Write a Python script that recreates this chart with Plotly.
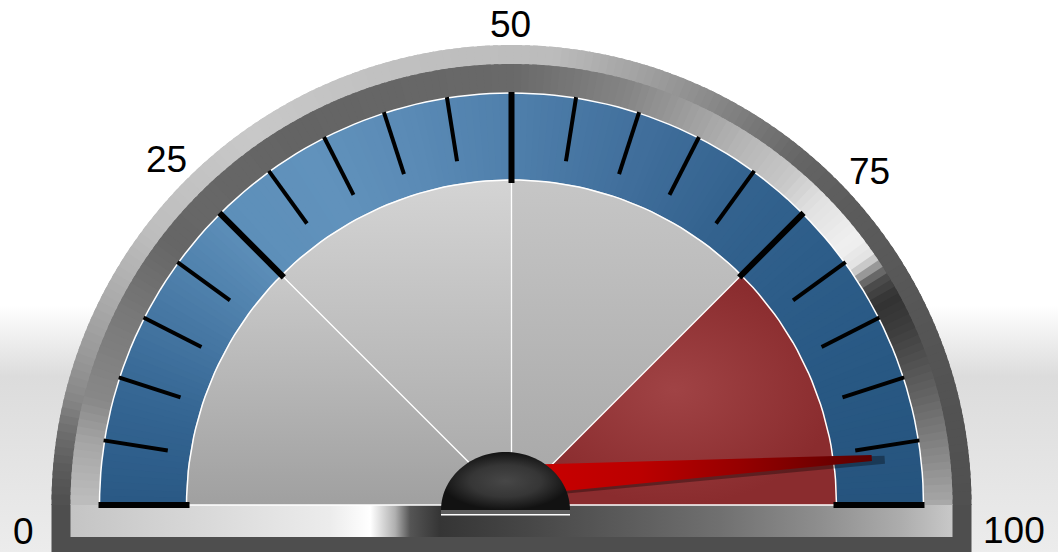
import math
import plotly.graph_objects as go

# ---------------- data ----------------
GAUGE_MIN = 0
GAUGE_MAX = 100
NEEDLE_VALUE = 98
BAND_EDGES = [0, 25, 50, 75, 100]
MAJOR_TICKS = [0, 25, 50, 75, 100]
MINOR_TICKS = [5, 10, 15, 20, 30, 35, 40, 45, 55, 60, 65, 70, 80, 85, 90, 95]
TICK_LABELS = ["0", "25", "50", "75", "100"]

# ---------------- style ----------------
W, H = 1058, 552
CX, CY = 511.5, 505.0
R_OUT, R_BEZ_IN, R_BAND_OUT, R_BAND_IN = 460.0, 441.0, 412.0, 325.0
R_MINOR_IN, R_MAJOR_IN = 348.0, 322.0
LABEL_R = 488.0
LABEL_SHIFTS = [(0, 26), (0, 0), (-1.5, 7), (13, 12), (14, 25.5)]
PIVOT = (505.5, 481.0)
NEEDLE_LEN, NEEDLE_BASE_HW, NEEDLE_TIP_HW = 367.0, 16.0, 3.0
HUB_C, HUB_RX, HUB_RY = (505.5, 510.0), 64.5, 58.0

OUTER_KEYS = [(0, 80), (20, 84), (42, 92), (50, 100), (57, 118), (65, 140), (73, 160),
              (85, 188), (105, 192), (125, 200), (143, 190), (153, 171), (160, 155),
              (166, 138), (171, 110), (176, 90), (180, 80)]
INNER_KEYS = [(0, 170), (5, 145), (15, 100), (25, 60), (29, 50), (32, 80), (35, 225),
              (38, 240), (45, 225), (50, 200), (58, 181), (65, 160), (75, 132), (90, 105),
              (120, 100), (135, 103), (143, 102), (153, 119), (160, 128), (166, 136),
              (172, 165), (180, 190)]
BLUE_KEYS = [(0, (38, 84, 126)), (20, (40, 88, 131)), (40, (45, 93, 137)),
             (55, (52, 99, 143)), (70, (64, 110, 155)), (90, (79, 127, 171)),
             (105, (90, 138, 181)), (120, (97, 146, 188)), (135, (93, 143, 185)),
             (150, (72, 121, 165)), (165, (52, 101, 146)), (180, (42, 89, 133))]
SECTOR_STYLES = [
    dict(type="vertical", colorscale=[[0, "#c9c9c9"], [1, "#a0a0a0"]], start=275, stop=505),
    dict(type="vertical", colorscale=[[0, "#d4d4d4"], [1, "#a6a6a6"]], start=180, stop=505),
    dict(type="vertical", colorscale=[[0, "#c6c6c6"], [1, "#a6a6a6"]], start=180, stop=505),
    dict(type="radial", colorscale=[[0, "#a04345"], [1, "#8a2c2e"]]),
]


def ang(v):
    return math.pi * (1 - (v - GAUGE_MIN) / (GAUGE_MAX - GAUGE_MIN))


def pt(r, a, c=(CX, CY)):
    return c[0] + r * math.cos(a), c[1] - r * math.sin(a)


def interp(keys, deg):
    for (a0, c0), (a1, c1) in zip(keys[:-1], keys[1:]):
        if a0 <= deg <= a1:
            t = (deg - a0) / (a1 - a0)
            if isinstance(c0, tuple):
                return tuple(c0[i] + (c1[i] - c0[i]) * t for i in range(3))
            return c0 + (c1 - c0) * t
    return keys[-1][1]


def rgb(c):
    if not isinstance(c, tuple):
        c = (c, c, c)
    return "rgb(%d,%d,%d)" % tuple(int(round(v)) for v in c)


fig = go.Figure()


def poly(xs, ys, color=None, gradient=None):
    kw = dict(x=xs, y=ys, mode="none", fill="toself", hoverinfo="skip", showlegend=False)
    if gradient is not None:
        kw["fillgradient"] = gradient
    else:
        kw["fillcolor"] = color
    fig.add_trace(go.Scatter(**kw))


def line(xs, ys, color, width):
    fig.add_trace(go.Scatter(x=xs, y=ys, mode="lines", line=dict(color=color, width=width),
                             hoverinfo="skip", showlegend=False))


def annulus(r0, r1, a0, a1, n=6):
    outer = [pt(r1, a0 + (a1 - a0) * i / n) for i in range(n + 1)]
    inner = [pt(r0, a1 - (a1 - a0) * i / n) for i in range(n + 1)]
    p = outer + inner
    return [q[0] for q in p], [q[1] for q in p]


def ring(r0, r1, keys, step=1.0, ov=0.3):
    d = 0.0
    while d < 180:
        mid = d + step / 2
        a0 = math.radians(max(0, d - ov))
        a1 = math.radians(min(180, d + step + ov))
        xs, ys = annulus(r0, r1, a0, a1, 2)
        poly(xs, ys, rgb(interp(keys, mid)))
        d += step


# background
poly([0, W, W, 0], [290, 290, H + 5, H + 5],
     gradient=dict(type="vertical", start=290, stop=H,
                   colorscale=[[0, "#ffffff"], [0.06, "#ffffff"], [0.33, "#dcdcdc"], [1, "#ececec"]]))

# bezel base (outer dark rectangle)
poly([CX - R_OUT, CX + R_OUT, CX + R_OUT, CX - R_OUT], [CY - 1, CY - 1, H + 5, H + 5], "#4e4e4e")
# outer ring
ring(R_BEZ_IN - 1, R_OUT, OUTER_KEYS)
# inner light strip
poly([CX - R_BEZ_IN, CX + R_BEZ_IN, CX + R_BEZ_IN, CX - R_BEZ_IN], [CY - 1, CY - 1, 537, 537],
     gradient=dict(type="horizontal", start=CX - R_BEZ_IN, stop=CX + R_BEZ_IN,
                   colorscale=[[0, "#c4c4c4"], [0.146, "#d8d8d8"], [0.294, "#ececec"],
                               [0.34, "#ffffff"], [0.368, "#b0b0b0"], [0.385, "#555555"],
                               [0.419, "#353535"], [0.51, "#454545"], [0.623, "#5a5a5a"],
                               [0.736, "#707070"], [0.85, "#8e8e8e"], [0.94, "#acacac"],
                               [1, "#c8c8c8"]]))
# inner ring
ring(R_BAND_OUT - 0.5, R_BEZ_IN, INNER_KEYS)
# blue band
ring(R_BAND_IN - 0.5, R_BAND_OUT, BLUE_KEYS)

# sectors
for i in range(len(BAND_EDGES) - 1):
    a0, a1 = ang(BAND_EDGES[i + 1]), ang(BAND_EDGES[i])
    n = 40
    p = [(CX, CY)] + [pt(R_BAND_IN + 0.5, a0 + (a1 - a0) * k / n) for k in range(n + 1)]
    poly([q[0] for q in p], [q[1] for q in p], gradient=SECTOR_STYLES[i])

# white edges
for r in (R_BAND_OUT, R_BAND_IN):
    p = [pt(r, math.pi * k / 120) for k in range(121)]
    line([q[0] for q in p], [q[1] for q in p], "white", 1.5)
sx, sy = [], []
for v in BAND_EDGES[1:-1]:
    a = ang(v)
    x1, y1 = pt(R_BAND_IN, a)
    sx += [CX, x1, None]
    sy += [CY, y1, None]
line(sx, sy, "white", 1.3)
line([CX - R_BAND_IN, CX + R_BAND_IN], [CY, CY], "white", 1.5)

# ticks
for ticks, rin, wdt in ((MINOR_TICKS, R_MINOR_IN, 4), (MAJOR_TICKS, R_MAJOR_IN, 6)):
    tx, ty = [], []
    for v in ticks:
        a = ang(v)
        p0, p1 = pt(R_BAND_OUT + 1, a), pt(rin, a)
        tx += [p0[0], p1[0], None]
        ty += [p0[1], p1[1], None]
    line(tx, ty, "black", wdt)

# needle
a = ang(NEEDLE_VALUE)
u = (math.cos(a), -math.sin(a))
nrm = (math.sin(a), math.cos(a))


def needle_poly(length, hw0, hw1, dx=0.0, dy=0.0):
    px, py = PIVOT[0] + dx, PIVOT[1] + dy
    pts = [(px - u[0] * 10 + nrm[0] * hw0, py - u[1] * 10 + nrm[1] * hw0),
           (px + u[0] * length + nrm[0] * hw1, py + u[1] * length + nrm[1] * hw1),
           (px + u[0] * length - nrm[0] * hw1, py + u[1] * length - nrm[1] * hw1),
           (px - u[0] * 10 - nrm[0] * hw0, py - u[1] * 10 - nrm[1] * hw0)]
    return [q[0] for q in pts], [q[1] for q in pts]


xs, ys = needle_poly(NEEDLE_LEN + 13, NEEDLE_BASE_HW, NEEDLE_TIP_HW + 1, 0, 2.5)
poly(xs, ys, "rgba(0,0,0,0.33)")
xs, ys = needle_poly(NEEDLE_LEN, NEEDLE_BASE_HW, NEEDLE_TIP_HW)
poly(xs, ys, gradient=dict(type="horizontal", start=540, stop=PIVOT[0] + NEEDLE_LEN,
                           colorscale=[[0, "#c80000"], [0.3, "#bb0000"], [0.6, "#960000"],
                                       [1, "#5a0000"]]))

# hub
poly([HUB_C[0] - HUB_RX, HUB_C[0] + HUB_RX, HUB_C[0] + HUB_RX, HUB_C[0] - HUB_RX],
     [HUB_C[1] - 2, HUB_C[1] - 2, HUB_C[1] + 4.5, HUB_C[1] + 4.5], "#5e5e5e")
line([HUB_C[0] - HUB_RX, HUB_C[0] + HUB_RX], [HUB_C[1] + 4.8, HUB_C[1] + 4.8], "white", 1.5)
hp = [(HUB_C[0] + HUB_RX * math.cos(math.pi * k / 60), HUB_C[1] - HUB_RY * math.sin(math.pi * k / 60))
      for k in range(61)]
poly([q[0] for q in hp], [q[1] for q in hp],
     gradient=dict(type="radial", colorscale=[[0, "#474747"], [0.55, "#363636"], [1, "#121212"]]))

# labels
for v, txt, (dx, dy) in zip(MAJOR_TICKS, TICK_LABELS, LABEL_SHIFTS):
    x, y = pt(LABEL_R, ang(v))
    fig.add_annotation(x=x, y=y, text=txt, showarrow=False, xshift=dx, yshift=-dy,
                       font=dict(family="Liberation Sans, Arial, sans-serif", size=37, color="black"),
                       xanchor="center", yanchor="middle", borderpad=0)

fig.update_layout(
    width=W, height=H, margin=dict(l=0, r=0, t=0, b=0),
    paper_bgcolor="white", plot_bgcolor="white", showlegend=False,
    xaxis=dict(range=[0, W], visible=False, fixedrange=True),
    yaxis=dict(range=[H, 0], visible=False, fixedrange=True),
)
fig.write_html("out.html", config={"displayModeBar": False},
               post_script="document.body.style.margin='0';document.body.style.overflow='hidden';")
